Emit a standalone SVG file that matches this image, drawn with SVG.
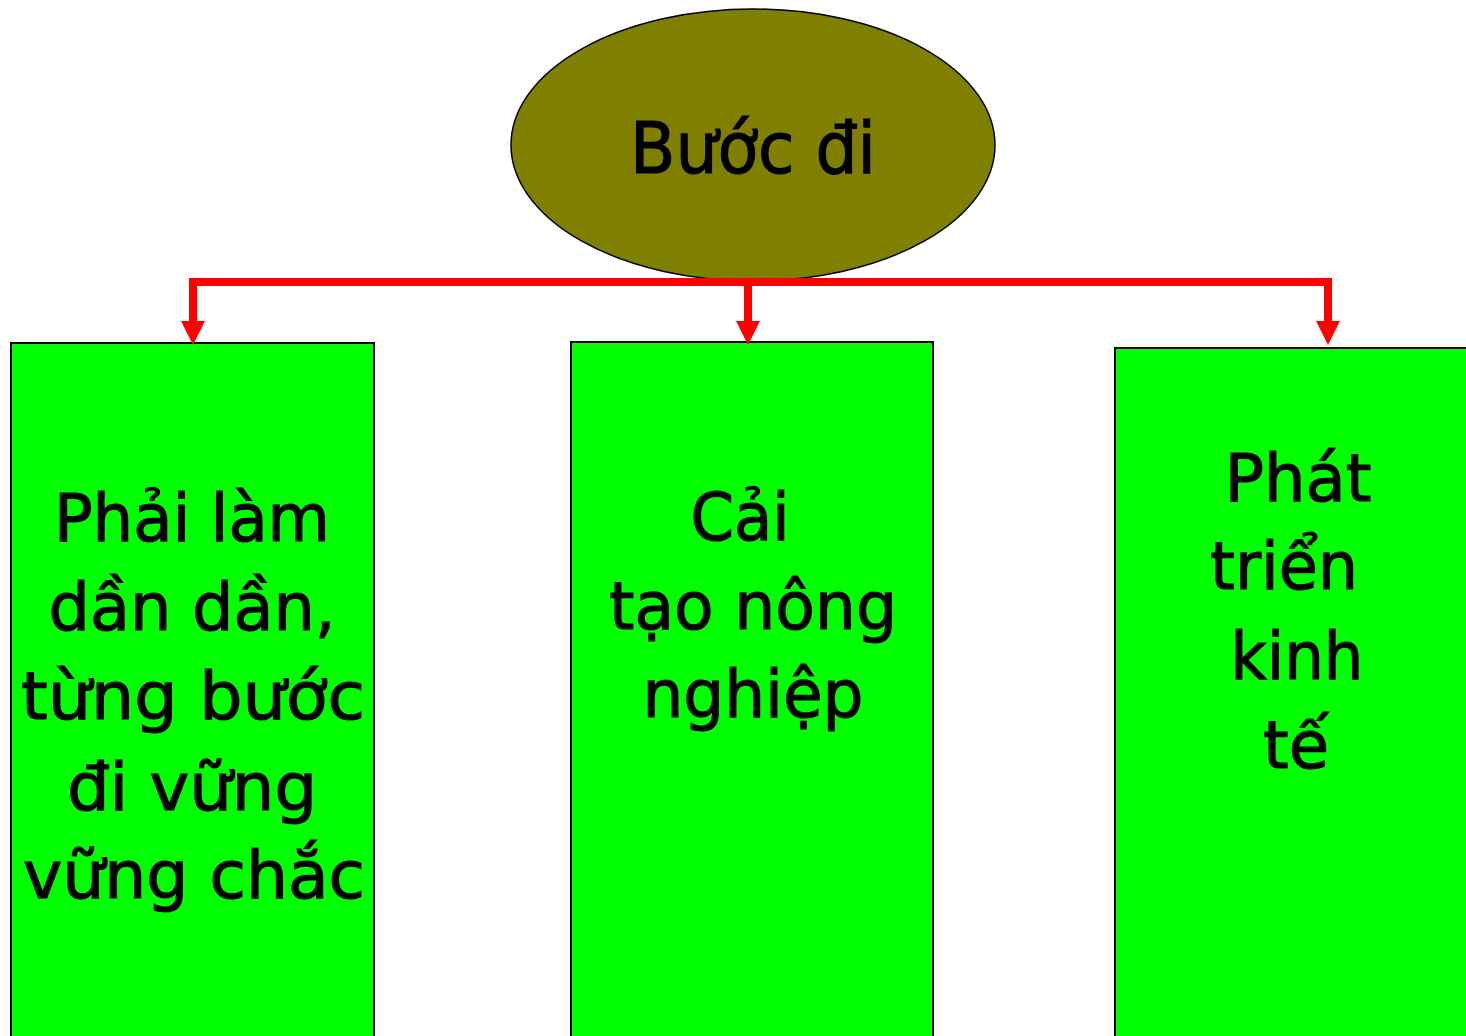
<svg xmlns="http://www.w3.org/2000/svg" width="1466" height="1036" viewBox="0 0 1466 1036">
<style>
.box{fill:#00ff00;stroke:#000;stroke-width:2}
.lbl{font-family:"DejaVu Sans","Liberation Sans",sans-serif;font-size:66px;fill:#000;stroke:#000;stroke-width:1.2;text-anchor:middle}
.conn{fill:none;stroke:#ff0000;stroke-width:8}
</style>
<rect width="1466" height="1036" fill="#fff"/>
<g id="root">
<ellipse cx="753" cy="145" rx="242" ry="136" fill="#808000" stroke="#000" stroke-width="1.5"/>
<text x="753" y="173" class="lbl" style="font-size:72px" textLength="246" lengthAdjust="spacingAndGlyphs">Bước đi</text>
</g>
<g id="node1">
<rect class="box" x="11" y="343" width="363" height="720"/>
<text class="lbl" x="192" y="541" textLength="276" lengthAdjust="spacingAndGlyphs">Phải làm</text>
<text class="lbl" x="192" y="630" textLength="287" lengthAdjust="spacingAndGlyphs">dần dần,</text>
<text class="lbl" x="193" y="719" textLength="344" lengthAdjust="spacingAndGlyphs">từng bước</text>
<text class="lbl" x="192" y="810" textLength="250" lengthAdjust="spacingAndGlyphs">đi vững</text>
<text class="lbl" x="194" y="898" textLength="342" lengthAdjust="spacingAndGlyphs">vững chắc</text>
</g>
<g id="node2">
<rect class="box" x="571" y="342" width="362" height="720"/>
<text class="lbl" x="740" y="540" textLength="99" lengthAdjust="spacingAndGlyphs">Cải</text>
<text class="lbl" x="753" y="629" textLength="288" lengthAdjust="spacingAndGlyphs">tạo nông</text>
<text class="lbl" x="753" y="717" textLength="221" lengthAdjust="spacingAndGlyphs">nghiệp</text>
</g>
<g id="node3">
<rect class="box" x="1115" y="348" width="370" height="720"/>
<text class="lbl" x="1298" y="501" textLength="147" lengthAdjust="spacingAndGlyphs">Phát</text>
<text class="lbl" x="1284" y="589" textLength="148" lengthAdjust="spacingAndGlyphs">triển</text>
<text class="lbl" x="1297" y="679" textLength="133" lengthAdjust="spacingAndGlyphs">kinh</text>
<text class="lbl" x="1296" y="768" textLength="66" lengthAdjust="spacingAndGlyphs">tế</text>
</g>
<g id="connectors">
<path class="conn" d="M193,322 V282 H1328 V322"/>
<path class="conn" d="M748,282 V322"/>
<path d="M181,321 L205,321 L193,345 Z M736,321 L760,321 L748,345 Z M1316,321 L1340,321 L1328,345 Z" fill="#ff0000"/>
</g>
</svg>
